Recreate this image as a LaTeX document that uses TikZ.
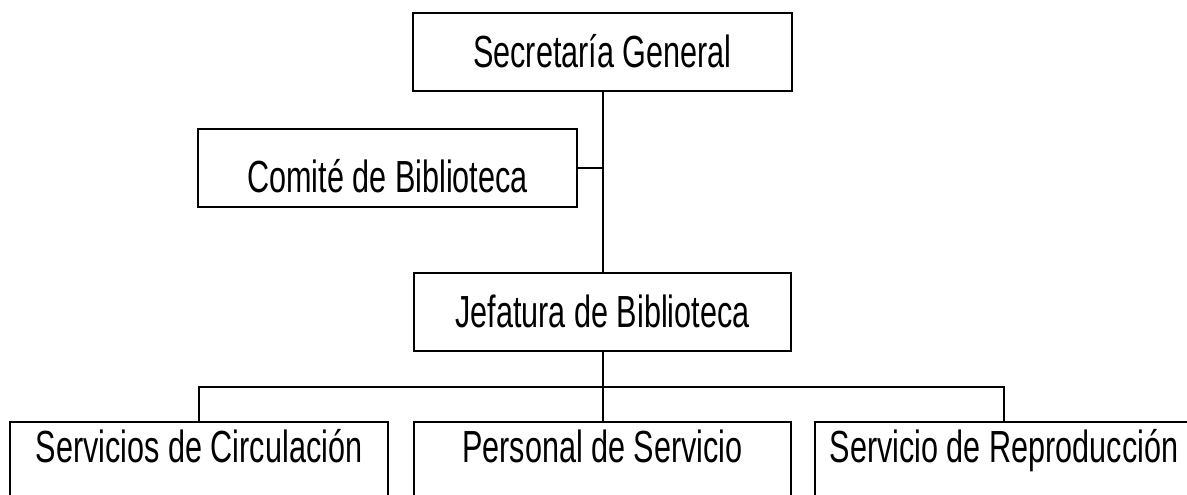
\documentclass[tikz,border=0pt]{standalone}
\usepackage{fontspec}
\newfontfamily\orgfont[FakeStretch=0.68]{Liberation Sans}
\begin{document}
\begin{tikzpicture}[x=1pt,y=-1pt,
  orgbox/.style={draw,line width=2.4pt,inner xsep=0pt,inner ysep=0pt,anchor=base,
    font=\orgfont\fontsize{45}{45}\selectfont},
  link/.style={line width=2pt}]
\useasboundingbox (0,0) rectangle (1187,495);
\clip (0,0) rectangle (1187,495);
\node[orgbox,minimum width=379pt,text height=55pt,text depth=23pt] (sec) at (602.5,68) {Secretaría General};
\node[orgbox,minimum width=379pt,text height=63pt,text depth=15pt] (com) at (387.5,192) {Comité de Biblioteca};
\node[orgbox,minimum width=377pt,text height=54pt,text depth=24pt] (jef) at (602.5,327) {Jefatura de Biblioteca};
\node[orgbox,minimum width=378pt,text height=40pt,text depth=40pt] (b1) at (199,462) {Servicios de Circulación};
\node[orgbox,minimum width=377pt,text height=40pt,text depth=40pt] (b2) at (602.5,462) {Personal de Servicio};
\node[orgbox,minimum width=378pt,text height=40pt,text depth=40pt] (b3) at (1004,462) {Servicio de Reproducción};
\coordinate (bar) at (602.5,387);
\draw[link] (sec.south) -- (jef.north);
\draw[link] (com.east) -- (sec.south |- com.east);
\draw[link] (jef.south) -- (b2.north);
\draw[link] (b1.north) -- (b1.north |- bar) -- (b3.north |- bar) -- (b3.north);
\end{tikzpicture}
\end{document}
